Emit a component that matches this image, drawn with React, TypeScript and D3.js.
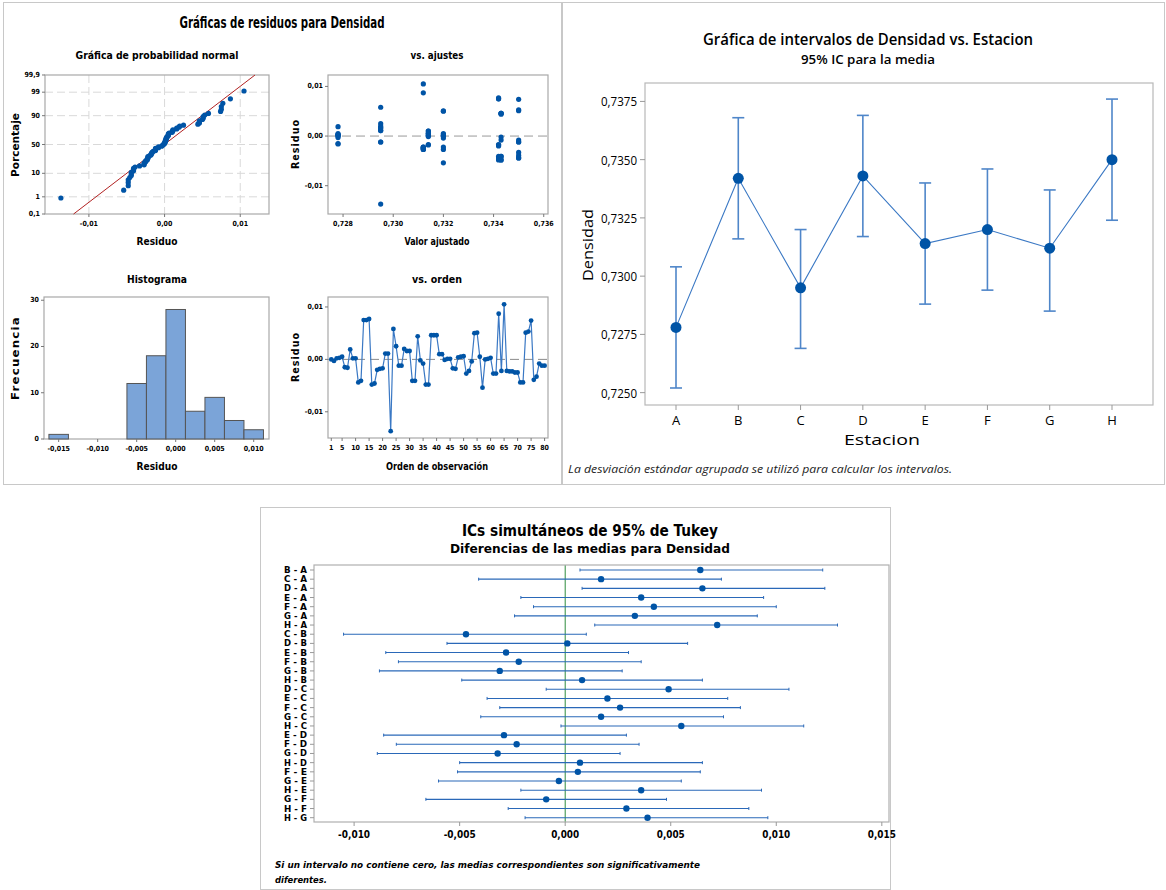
import React, { useRef, useEffect } from "react";
import * as d3 from "d3";

// ---- data ----
const stations = ["A", "B", "C", "D", "E", "F", "G", "H"];
const stationMeans = [0.7278, 0.7342, 0.7295, 0.7343, 0.7314, 0.732, 0.7312, 0.735];
const ciLower = [0.7252, 0.7316, 0.7269, 0.7317, 0.7288, 0.7294, 0.7285, 0.7324];
const ciUpper = [0.7304, 0.7368, 0.732, 0.7369, 0.734, 0.7346, 0.7337, 0.7376];

// residuals in observation order (10 per station, A..H)
const residuals = [
  0.0, -0.0003, 0.0002, 0.0003, 0.0005, -0.0015, -0.0016, 0.0019, 0.0002, 0.0002,
  -0.0044, -0.0041, 0.0075, 0.0075, 0.0077, -0.0048, -0.0046, -0.002, -0.0018, -0.0017,
  0.0011, 0.0011, -0.0137, 0.0058, 0.0025, -0.0012, -0.0012, 0.002, 0.0016, 0.0016,
  -0.0041, -0.0041, 0.0044, -0.0002, -0.0008, -0.0048, -0.0048, 0.0046, 0.0046, 0.0046,
  0.001, 0.001, -0.0001, 0.0001, 0.0001, -0.0017, -0.0018, 0.0004, 0.0005, 0.0006,
  -0.0027, -0.0022, -0.0004, 0.005, 0.0051, 0.0005, -0.0054, 0.0, 0.0001, 0.0003,
  -0.0027, -0.0027, 0.0087, -0.0022, 0.0105, -0.0022, -0.0023, -0.0023, -0.0025, -0.0025,
  -0.0044, -0.0044, 0.0051, 0.0053, 0.0074, -0.0039, -0.0033, -0.0008, -0.0012, -0.0012,
];
const obsPerStation = 10;

const histCenters = [-0.015, -0.0125, -0.01, -0.0075, -0.005, -0.0025, 0, 0.0025, 0.005, 0.0075, 0.01];
const histCounts = [1, 0, 0, 0, 12, 18, 28, 6, 9, 4, 2];
const histBinWidth = 0.0025;

const probTicks = [0.1, 1, 10, 50, 90, 99, 99.9];
const probTickLabels = ["0,1", "1", "10", "50", "90", "99", "99,9"];
const residTicks = [-0.01, 0, 0.01];
const fitTicks = [0.728, 0.73, 0.732, 0.734, 0.736];
const histXTicks = [-0.015, -0.01, -0.005, 0, 0.005, 0.01];
const histYTicks = [0, 10, 20, 30];
const orderTicks = [1, 5, 10, 15, 20, 25, 30, 35, 40, 45, 50, 55, 60, 65, 70, 75, 80];
const densTicks = [0.725, 0.7275, 0.73, 0.7325, 0.735, 0.7375];

const tukeyLabels = [
  "B - A", "C - A", "D - A", "E - A", "F - A", "G - A", "H - A",
  "C - B", "D - B", "E - B", "F - B", "G - B", "H - B",
  "D - C", "E - C", "F - C", "G - C", "H - C",
  "E - D", "F - D", "G - D", "H - D",
  "F - E", "G - E", "H - E",
  "G - F", "H - F",
  "H - G",
];
const tukeyCenter = [
  0.0064, 0.0017, 0.0065, 0.0036, 0.0042, 0.0033, 0.0072,
  -0.0047, 0.0001, -0.0028, -0.0022, -0.0031, 0.0008,
  0.0049, 0.002, 0.0026, 0.0017, 0.0055,
  -0.0029, -0.0023, -0.0032, 0.0007,
  0.0006, -0.0003, 0.0036,
  -0.0009, 0.0029,
  0.0039,
];
const tukeyLower = [
  0.0007, -0.0041, 0.0008, -0.0021, -0.0015, -0.0024, 0.0014,
  -0.0105, -0.0056, -0.0085, -0.0079, -0.0088, -0.0049,
  -0.0009, -0.0037, -0.0031, -0.004, -0.0002,
  -0.0086, -0.008, -0.0089, -0.005,
  -0.0051, -0.006, -0.0021,
  -0.0066, -0.0027,
  -0.0019,
];
const tukeyUpper = [
  0.0122, 0.0074, 0.0123, 0.0094, 0.01, 0.0091, 0.0129,
  0.001, 0.0058, 0.003, 0.0036, 0.0027, 0.0065,
  0.0106, 0.0077, 0.0083, 0.0075, 0.0113,
  0.0029, 0.0035, 0.0026, 0.0065,
  0.0064, 0.0055, 0.0093,
  0.0048, 0.0087,
  0.0096,
];
const tukeyTicks = [-0.01, -0.005, 0, 0.005, 0.01, 0.015];

// ---- styling ----
const FONT_N = "'Liberation Sans Narrow', 'DejaVu Sans Condensed', 'Arial Narrow', sans-serif";
const FONT_UI = "'Open Sans', 'Noto Sans', sans-serif";
const FONT_V = "'DejaVu Sans', Verdana, sans-serif";
const BLUE = "#0054a6";
const LINE_BLUE = "#3a78c4";
const BAR_BLUE = "#7ba4d8";
const FRAME = "#a8a8a8";
const PANEL = "#c8c8c8";

const comma = (v: number, digits: number) => v.toFixed(digits).replace(".", ",");

// inverse standard normal CDF (Acklam)
function probit(p: number) {
  const a = [-39.6968302866538, 220.946098424521, -275.928510446969, 138.357751867269, -30.6647980661472, 2.50662827745924];
  const b = [-54.4760987982241, 161.585836858041, -155.698979859887, 66.8013118877197, -13.2806815528857];
  const c = [-0.00778489400243029, -0.322396458041136, -2.40075827716184, -2.54973253934373, 4.37466414146497, 2.93816398269878];
  const d = [0.00778469570904146, 0.32246712907004, 2.445134137143, 3.75440866190742];
  const pl = 0.02425;
  if (p < pl) {
    const q = Math.sqrt(-2 * Math.log(p));
    return (((((c[0] * q + c[1]) * q + c[2]) * q + c[3]) * q + c[4]) * q + c[5]) / ((((d[0] * q + d[1]) * q + d[2]) * q + d[3]) * q + 1);
  }
  if (p > 1 - pl) {
    const q = Math.sqrt(-2 * Math.log(1 - p));
    return -(((((c[0] * q + c[1]) * q + c[2]) * q + c[3]) * q + c[4]) * q + c[5]) / ((((d[0] * q + d[1]) * q + d[2]) * q + d[3]) * q + 1);
  }
  const q = p - 0.5;
  const r = q * q;
  return ((((((a[0] * r + a[1]) * r + a[2]) * r + a[3]) * r + a[4]) * r + a[5]) * q) / (((((b[0] * r + b[1]) * r + b[2]) * r + b[3]) * r + b[4]) * r + 1);
}

function txt(g: any, x: number, y: number, s: string, o: any = {}) {
  const t = g
    .append("text")
    .attr("x", x)
    .attr("y", y)
    .attr("text-anchor", o.anchor || "middle")
    .attr("dominant-baseline", "central")
    .style("font-family", o.font || FONT_N)
    .style("font-size", (o.size || 10) + "px")
    .style("font-weight", o.weight || "bold")
    .style("font-style", o.italic ? "italic" : "normal")
    .style("fill", o.fill || "#000")
    .text(s);
  if (o.width) t.attr("textLength", o.width).attr("lengthAdjust", "spacingAndGlyphs");
  if (o.rotate) t.attr("transform", `rotate(-90, ${x}, ${y})`);
  if (o.spacing) t.style("letter-spacing", o.spacing + "px");
  return t;
}

function frame(g: any, x0: number, x1: number, y0: number, y1: number, color = FRAME) {
  g.append("rect")
    .attr("x", x0)
    .attr("y", y0)
    .attr("width", x1 - x0)
    .attr("height", y1 - y0)
    .attr("fill", "none")
    .attr("stroke", color)
    .attr("stroke-width", 1.2);
}

function smallAxes(g: any, x: any, y: any, xTicks: number[], xLabels: string[], yTicks: number[], yLabels: string[]) {
  const [x0] = x.range();
  const [y1] = y.range();
  xTicks.forEach((t, i) => {
    g.append("line").attr("x1", x(t)).attr("x2", x(t)).attr("y1", y1).attr("y2", y1 + 3).attr("stroke", "#777");
    txt(g, x(t), y1 + 10, xLabels[i], { size: 7 });
  });
  yTicks.forEach((t, i) => {
    g.append("line").attr("x1", x0 - 3).attr("x2", x0).attr("y1", y(t)).attr("y2", y(t)).attr("stroke", "#777");
    txt(g, x0 - 5, y(t), yLabels[i], { size: 7, anchor: "end" });
  });
}

function drawResidualPanel(svg: any) {
  const g = svg.append("g");
  g.append("rect").attr("x", 3.5).attr("y", 2.5).attr("width", 558).attr("height", 482).attr("fill", "#fff").attr("stroke", PANEL);
  txt(g, 282, 22, "Gráficas de residuos para Densidad", { size: 16, width: 205 });

  const n = residuals.length;
  const mean = d3.mean(residuals) as number;
  const sd = d3.deviation(residuals) as number;

  // normal probability plot
  {
    const x = d3.scaleLinear().domain([-0.0158, 0.0138]).range([45, 269]);
    const y = d3.scaleLinear().domain([-3.09, 3.09]).range([214, 75]);
    txt(g, 157, 55, "Gráfica de probabilidad normal", { size: 11, width: 163 });
    residTicks.forEach((t) =>
      g.append("line").attr("x1", x(t)).attr("x2", x(t)).attr("y1", 75).attr("y2", 214)
        .attr("stroke", "#d9d9d9").attr("stroke-dasharray", "8,4")
    );
    probTicks.slice(1, -1).forEach((p) =>
      g.append("line").attr("x1", 45).attr("x2", 269).attr("y1", y(probit(p / 100))).attr("y2", y(probit(p / 100)))
        .attr("stroke", "#d9d9d9").attr("stroke-dasharray", "8,4")
    );
    frame(g, 45, 269, 75, 214);
    smallAxes(g, x, y, residTicks, ["-0,01", "0,00", "0,01"], probTicks.map((p) => probit(p / 100)), probTickLabels);
    const z0 = Math.max(-3.09, (x.invert(45) - mean) / sd);
    g.append("line")
      .attr("x1", x(mean + z0 * sd)).attr("y1", y(z0))
      .attr("x2", x(mean + 3.09 * sd)).attr("y2", y(3.09))
      .attr("stroke", "#b22222").attr("stroke-width", 1);
    const sorted = residuals.slice().sort((a, b) => a - b);
    g.selectAll(".np").data(sorted).enter().append("circle")
      .attr("cx", (d: number) => x(d))
      .attr("cy", (_: number, i: number) => y(probit((i + 1 - 0.3) / (n + 0.4))))
      .attr("r", 2.6).attr("fill", BLUE);
    txt(g, 157, 241, "Residuo", { size: 10.5, width: 41 });
    txt(g, 15, 145, "Porcentaje", { size: 10.5, rotate: true, width: 64 });
  }

  // vs ajustes
  {
    const x = d3.scaleLinear().domain([0.7274, 0.73617]).range([328, 548]);
    const y = d3.scaleLinear().domain([-0.0157, 0.0123]).range([214, 75]);
    txt(g, 437, 55, "vs. ajustes", { size: 11, width: 53 });
    g.append("line").attr("x1", 328).attr("x2", 548).attr("y1", y(0)).attr("y2", y(0))
      .attr("stroke", "#9a9a9a").attr("stroke-dasharray", "9,5");
    frame(g, 328, 548, 75, 214);
    smallAxes(g, x, y, fitTicks, fitTicks.map((t) => comma(t, 3)), residTicks, ["-0,01", "0,00", "0,01"]);
    g.selectAll(".fa").data(residuals).enter().append("circle")
      .attr("cx", (_: number, i: number) => x(stationMeans[Math.floor(i / obsPerStation)]))
      .attr("cy", (d: number) => y(d))
      .attr("r", 2.6).attr("fill", BLUE);
    txt(g, 437, 241, "Valor ajustado", { size: 10.5, width: 65 });
    txt(g, 295, 144, "Residuo", { size: 10.5, rotate: true, width: 50, spacing: 1 });
  }

  // histogram
  {
    const x = d3.scaleLinear().domain([-0.01688, 0.01196]).range([44, 269]);
    const y = d3.scaleLinear().domain([0, 30.7]).range([439, 297]);
    txt(g, 157, 279, "Histograma", { size: 11, width: 60 });
    frame(g, 44, 269, 297, 439);
    histCounts.forEach((c, i) => {
      if (c <= 0) return;
      g.append("rect")
        .attr("x", x(histCenters[i] - histBinWidth / 2))
        .attr("width", x(histCenters[i] + histBinWidth / 2) - x(histCenters[i] - histBinWidth / 2))
        .attr("y", y(c))
        .attr("height", y(0) - y(c))
        .attr("fill", BAR_BLUE)
        .attr("stroke", "#555")
        .attr("stroke-width", 1);
    });
    smallAxes(g, x, y, histXTicks, histXTicks.map((t) => comma(t, 3)), histYTicks, histYTicks.map(String));
    txt(g, 157, 466, "Residuo", { size: 10.5, width: 41 });
    txt(g, 15, 358, "Frecuencia", { size: 10.5, rotate: true, width: 84, spacing: 1 });
  }

  // vs orden
  {
    const x = d3.scaleLinear().domain([-0.22, 81.26]).range([328, 548]);
    const y = d3.scaleLinear().domain([-0.015, 0.0119]).range([438, 297]);
    txt(g, 437, 279, "vs. orden", { size: 11, width: 50 });
    g.append("line").attr("x1", 328).attr("x2", 548).attr("y1", y(0)).attr("y2", y(0))
      .attr("stroke", "#8a8a8a").attr("stroke-dasharray", "9,5");
    frame(g, 328, 548, 297, 438);
    smallAxes(g, x, y, orderTicks, orderTicks.map(String), residTicks, ["-0,01", "0,00", "0,01"]);
    const line = d3.line<number>().x((_, i) => x(i + 1)).y((d) => y(d));
    g.append("path").attr("d", line(residuals)).attr("fill", "none").attr("stroke", LINE_BLUE).attr("stroke-width", 1.2);
    g.selectAll(".or").data(residuals).enter().append("circle")
      .attr("cx", (_: number, i: number) => x(i + 1))
      .attr("cy", (d: number) => y(d))
      .attr("r", 2.4).attr("fill", BLUE);
    txt(g, 437, 466, "Orden de observación", { size: 10.5, width: 102 });
    txt(g, 295, 357, "Residuo", { size: 10.5, rotate: true, width: 50, spacing: 1 });
  }
}

function drawIntervalPanel(svg: any) {
  const g = svg.append("g");
  g.append("rect").attr("x", 562.5).attr("y", 2.5).attr("width", 602).attr("height", 482).attr("fill", "#fff").attr("stroke", PANEL);
  const x = d3.scalePoint<string>().domain(stations).range([676, 1112]);
  const y = d3.scaleLinear().domain([0.72447, 0.73829]).range([405, 83]);

  txt(g, 868, 39, "Gráfica de intervalos de Densidad vs. Estacion", { font: FONT_UI, size: 16, weight: 600, width: 330 });
  txt(g, 868, 59, "95% IC para la media", { font: FONT_UI, size: 13, weight: 600, width: 134 });

  frame(g, 645, 1153, 83, 405, "#b8b8b8");
  densTicks.forEach((t) => {
    g.append("line").attr("x1", 640).attr("x2", 645).attr("y1", y(t)).attr("y2", y(t)).attr("stroke", "#999");
    txt(g, 637, y(t), comma(t, 4), { font: FONT_UI, size: 13, weight: 500, anchor: "end", width: 36 });
  });
  stations.forEach((s) => {
    g.append("line").attr("x1", x(s)).attr("x2", x(s)).attr("y1", 405).attr("y2", 410).attr("stroke", "#999");
    txt(g, x(s) as number, 420, s, { font: FONT_UI, size: 13, weight: 500 });
  });
  txt(g, 882, 439, "Estacion", { font: FONT_UI, size: 15, weight: 500, width: 76 });
  txt(g, 587, 245, "Densidad", { font: FONT_UI, size: 15, weight: 500, rotate: true, width: 72 });

  stations.forEach((s, i) => {
    const cx = x(s) as number;
    g.append("line").attr("x1", cx).attr("x2", cx).attr("y1", y(ciLower[i])).attr("y2", y(ciUpper[i]))
      .attr("stroke", "#4f86c9").attr("stroke-width", 1.6);
    [ciLower[i], ciUpper[i]].forEach((v) =>
      g.append("line").attr("x1", cx - 6).attr("x2", cx + 6).attr("y1", y(v)).attr("y2", y(v))
        .attr("stroke", "#4f86c9").attr("stroke-width", 1.6)
    );
  });
  const line = d3.line<number>().x((_, i) => x(stations[i]) as number).y((d) => y(d));
  g.append("path").attr("d", line(stationMeans)).attr("fill", "none").attr("stroke", LINE_BLUE).attr("stroke-width", 1.1);
  g.selectAll(".mn").data(stationMeans).enter().append("circle")
    .attr("cx", (_: number, i: number) => x(stations[i]))
    .attr("cy", (d: number) => y(d))
    .attr("r", 5.5).attr("fill", BLUE);

  txt(g, 568, 468, "La desviación estándar agrupada se utilizó para calcular los intervalos.", {
    font: FONT_UI, size: 11, weight: 400, italic: true, anchor: "start", width: 384, fill: "#222",
  });
}

function drawTukeyPanel(svg: any) {
  const g = svg.append("g");
  g.append("rect").attr("x", 260.5).attr("y", 507.5).attr("width", 630).attr("height", 382).attr("fill", "#fff").attr("stroke", PANEL);
  const x = d3.scaleLinear().domain([-0.0119, 0.01534]).range([314, 889]);
  const y = d3.scalePoint<string>().domain(tukeyLabels).range([570, 817.7]);

  txt(g, 590, 531, "ICs simultáneos de 95% de Tukey", { font: FONT_V, size: 15, width: 256 });
  txt(g, 590, 548, "Diferencias de las medias para Densidad", { font: FONT_V, size: 12.5, width: 280 });

  g.append("line").attr("x1", x(0)).attr("x2", x(0)).attr("y1", 565).attr("y2", 822).attr("stroke", "#2e8b3e").attr("stroke-width", 1);
  frame(g, 314, 889, 565, 822, "#b0b0b0");

  tukeyLabels.forEach((lab, i) => {
    const yy = y(lab) as number;
    g.append("line").attr("x1", 310).attr("x2", 314).attr("y1", yy).attr("y2", yy).attr("stroke", "#999");
    txt(g, 307, yy, lab, { font: FONT_V, size: 8.5, anchor: "end", width: 23 });
    g.append("line").attr("x1", x(tukeyLower[i])).attr("x2", x(tukeyUpper[i])).attr("y1", yy).attr("y2", yy)
      .attr("stroke", "#2a68b8").attr("stroke-width", 1.1);
    [tukeyLower[i], tukeyUpper[i]].forEach((v) =>
      g.append("line").attr("x1", x(v)).attr("x2", x(v)).attr("y1", yy - 1.5).attr("y2", yy + 1.5)
        .attr("stroke", "#2a68b8").attr("stroke-width", 1)
    );
    g.append("circle").attr("cx", x(tukeyCenter[i])).attr("cy", yy).attr("r", 3.2).attr("fill", BLUE);
  });

  tukeyTicks.forEach((t) => {
    g.append("line").attr("x1", x(t)).attr("x2", x(t)).attr("y1", 822).attr("y2", 826).attr("stroke", "#999");
    txt(g, x(t), 834, comma(t, 3), { font: FONT_V, size: 10, width: t < 0 ? 32 : 28 });
  });

  txt(g, 275, 864, "Si un intervalo no contiene cero, las medias correspondientes son significativamente", {
    font: FONT_V, size: 9.5, weight: 600, italic: true, anchor: "start", width: 425,
  });
  txt(g, 275, 879, "diferentes.", { font: FONT_V, size: 9.5, weight: 600, italic: true, anchor: "start", width: 52 });
}

const App = () => {
  const ref = useRef<SVGSVGElement>(null);

  useEffect(() => {
    const svg = d3.select(ref.current);
    svg.selectAll("*").remove();
    svg.append("rect").attr("width", 1166).attr("height", 890).attr("fill", "#fff");
    drawResidualPanel(svg);
    drawIntervalPanel(svg);
    drawTukeyPanel(svg);
  }, []);

  return (
    <svg
      ref={ref}
      width={1166}
      height={890}
      style={{ position: "absolute", left: 0, top: 0, display: "block" }}
    />
  );
};

export default App;
